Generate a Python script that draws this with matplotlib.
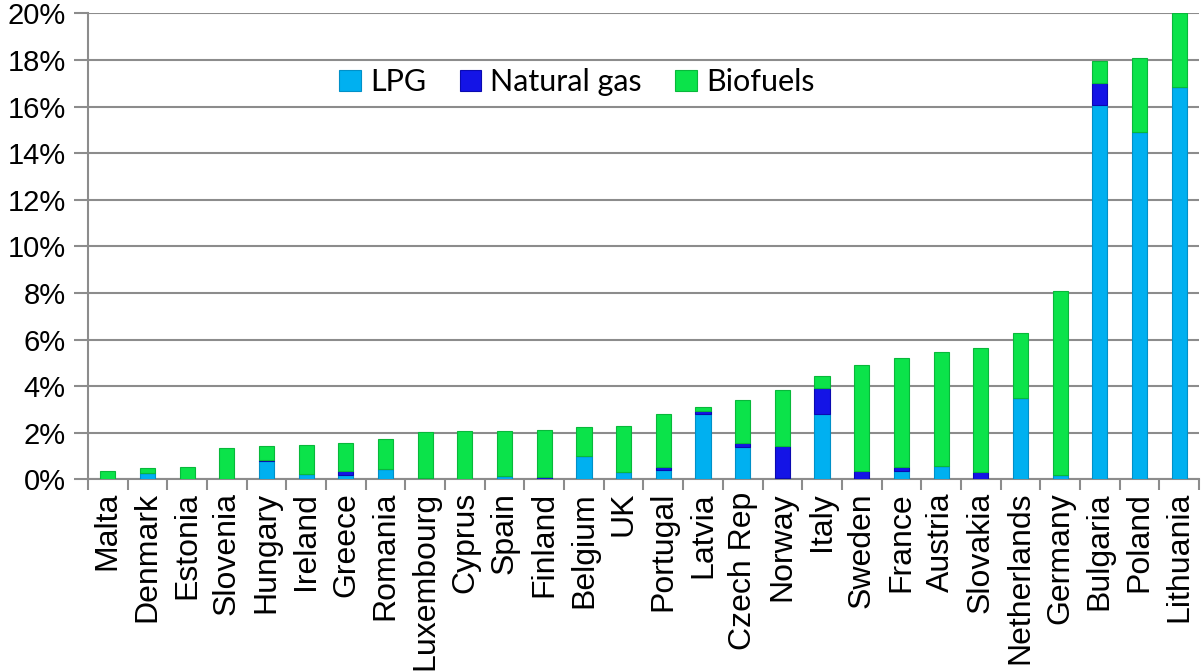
import matplotlib.pyplot as plt
import numpy as np

# Share of alternative fuels by country (% of fleet)
countries = ["Malta", "Denmark", "Estonia", "Slovenia", "Hungary", "Ireland",
             "Greece", "Romania", "Luxembourg", "Cyprus", "Spain", "Finland",
             "Belgium", "UK", "Portugal", "Latvia", "Czech Rep", "Norway",
             "Italy", "Sweden", "France", "Austria", "Slovakia", "Netherlands",
             "Germany", "Bulgaria", "Poland", "Lithuania"]

lpg = [0.00, 0.28, 0.00, 0.00, 0.80, 0.22, 0.20, 0.45, 0.05, 0.00, 0.15, 0.00,
       1.00, 0.33, 0.40, 2.83, 1.40, 0.05, 2.80, 0.00, 0.35, 0.60, 0.00, 3.50,
       0.21, 16.07, 14.93, 16.83]
natural_gas = [0.00, 0.00, 0.00, 0.00, 0.05, 0.00, 0.17, 0.00, 0.00, 0.00, 0.00, 0.09,
               0.00, 0.00, 0.14, 0.10, 0.17, 1.38, 1.14, 0.35, 0.17, 0.00, 0.31, 0.00,
               0.00, 0.93, 0.00, 0.00]
biofuels = [0.37, 0.22, 0.54, 1.37, 0.60, 1.28, 1.19, 1.28, 1.98, 2.08, 1.92, 2.05,
            1.25, 1.97, 2.25, 0.16, 1.86, 2.40, 0.49, 4.57, 4.70, 4.87, 5.33, 2.79,
            7.90, 0.96, 3.14, 3.20]

col_lpg = "#00b0f0"
col_ng = "#1414e6"
col_bio = "#0be34a"

plt.rcParams["font.family"] = ["Liberation Sans", "DejaVu Sans"]

fig = plt.figure(figsize=(12.01, 6.71), dpi=100)
ax = fig.add_axes([0.0733, 0.2854, 0.925, 0.6946])

x = np.arange(len(countries))
lpg_a = np.array(lpg)
ng_a = np.array(natural_gas)
bio_a = np.array(biofuels)
w = 0.38

ax.bar(x, lpg_a, w, color=col_lpg, edgecolor="#0090c8", linewidth=0.8,
       label="LPG", zorder=3)
ax.bar(x, ng_a, w, bottom=lpg_a, color=col_ng, edgecolor="#0a0ab0",
       linewidth=0.8, label="Natural gas", zorder=3)
ax.bar(x, bio_a, w, bottom=lpg_a + ng_a, color=col_bio, edgecolor="#08b83a",
       linewidth=0.8, label="Biofuels", zorder=3)

ax.set_xlim(-0.5, len(countries) - 0.5)
ax.set_ylim(0, 20)
ax.set_yticks(np.arange(0, 21, 2))
ax.set_yticklabels([f"{v}%" for v in range(0, 21, 2)], fontsize=21)
ax.yaxis.grid(True, color="#8c8c8c", linewidth=1.5, zorder=0)
ax.tick_params(axis="y", length=10, width=1.5, color="#8c8c8c", pad=6)

ax.set_xticks(x)
ax.set_xticklabels(countries, rotation=90, fontsize=23)
ax.tick_params(axis="x", which="major", length=0, pad=9)
ax.set_xticks(np.arange(-0.5, len(countries), 1), minor=True)
ax.tick_params(axis="x", which="minor", length=8, width=1.5, color="#8c8c8c")

for side in ["top", "right"]:
    ax.spines[side].set_visible(False)
for side in ["left", "bottom"]:
    ax.spines[side].set_color("#8c8c8c")
    ax.spines[side].set_linewidth(1.5)

ax.legend(loc="center", bbox_to_anchor=(0.44, 0.853), ncol=3, frameon=False,
          prop={"family": "Lato", "size": 22}, handlelength=0.7, handleheight=0.7,
          handletextpad=0.3, columnspacing=1.1)

fig.savefig("out.png", dpi=100)
